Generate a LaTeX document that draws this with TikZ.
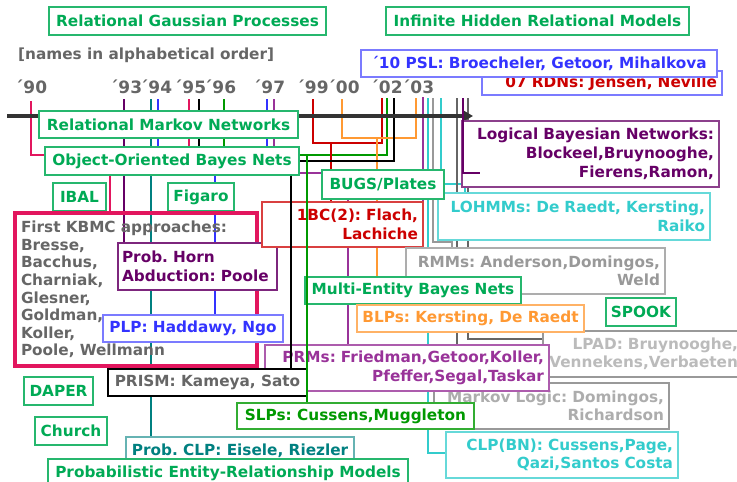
\documentclass[tikz,border=0pt]{standalone}
\usepackage{fontspec}
\setmainfont{DejaVu Sans}
\usetikzlibrary{arrows.meta}

\definecolor{grtext}{HTML}{00AA55}
\definecolor{grline}{HTML}{009900}
\definecolor{kbmcc}{HTML}{E2165E}
\definecolor{dpurple}{HTML}{660066}
\definecolor{mpurple}{HTML}{993399}
\definecolor{tealc}{HTML}{008080}
\definecolor{bluec}{HTML}{3333FF}
\definecolor{lbluec}{HTML}{7B7BFF}
\definecolor{redc}{HTML}{CC0000}
\definecolor{orangec}{HTML}{FF9933}
\definecolor{cyanc}{HTML}{33CCCC}
\definecolor{grayc}{HTML}{999999}
\definecolor{dgrayc}{HTML}{666666}
\definecolor{lgrayc}{HTML}{BBBBBB}
\definecolor{axisc}{HTML}{333333}

\newcommand{\boxfont}{\bfseries\fontsize{15.3}{18.5}\selectfont\frenchspacing}

\tikzset{
  lbl/.style={draw, fill=white, line width=1.2pt, inner xsep=5pt, inner ysep=0pt, font=\boxfont},
  gbox/.style={lbl, draw=grtext!85, text=grtext},
  tick/.style={line width=2pt},
  yr/.style={text=dgrayc, font=\bfseries\fontsize{17}{20}\selectfont, inner sep=0pt},
}

\begin{document}
\begin{tikzpicture}[x=1pt, y=-1pt]
	\useasboundingbox (0,0) rectangle (737,482);

	% year ticks
	\coordinate (y90) at (30.5,101);
	\coordinate (y93) at (124,99);
	\coordinate (y94t) at (151,99);
	\coordinate (y94b) at (158,99);
	\coordinate (y95k) at (189,99);
	\coordinate (y95b) at (199,99);
	\coordinate (y96) at (224,99);
	\coordinate (y97b) at (267,99);
	\coordinate (y97p) at (274,99);
	\coordinate (y99) at (313,99);
	\coordinate (y00) at (342,99);
	\coordinate (y02r) at (382,98);
	\coordinate (y02g) at (387,98);
	\coordinate (y02b) at (394,98);
	\coordinate (y03o) at (416,98);
	\coordinate (y03p) at (423,97);
	\coordinate (y03c) at (428,98);
	\coordinate (y03g) at (433,98);
	\coordinate (y03l) at (441,98);
	\coordinate (y03m) at (457,98);
	\coordinate (y03n) at (463,98);
	\coordinate (y03d) at (468,98);

	% joints
	\coordinate (j90) at (110,155);
	\coordinate (j94) at (215,160);
	\coordinate (jb) at (291,161);
	\coordinate (jg) at (307,155);
	\coordinate (jp) at (348,173);
	\coordinate (jr) at (331,143);
	\coordinate (jo) at (377,138);
	\coordinate (jm) at (452,242);
	\coordinate (jl) at (465,184);
	\coordinate (jd) at (543,339);
	\coordinate (jn) at (480,173);

	% years
	\node[yr, anchor=base] (l90) at (31,93) {´90};
	\node[yr, anchor=base] (l93) at (126,93) {´93};
	\node[yr, anchor=base] (l94) at (156,93) {´94};
	\node[yr, anchor=base] (l95) at (190,93) {´95};
	\node[yr, anchor=base] (l96) at (220,93) {´96};
	\node[yr, anchor=base] (l97) at (269,93) {´97};
	\node[yr, anchor=base] (l99) at (312.5,93) {´99};
	\node[yr, anchor=base] (l00) at (343.5,93) {´00};
	\node[yr, anchor=base] (l02) at (386.5,93) {´02};
	\node[yr, anchor=base] (l03) at (418,93) {´03};
	\node[anchor=west, text=dgrayc, font=\boxfont, inner sep=0pt] (names) at (18,55) {[names in alphabetical order]};

	% lines under the boxes
	\draw[tick, kbmcc] (y90) |- (j90) -- (j90 |- 0,213);
	\draw[tick, dpurple] (y93) -- (y93 |- 0,243);
	\draw[tick, tealc] (y94t) -- (y94t |- 0,437);
	\draw[tick, bluec] (y94b) |- (j94) -- (j94 |- 0,315);
	\draw[tick, kbmcc] (y95k) -- ++(0,62);
	\draw[tick] (y95b) |- (jb);
	\draw[tick, grline] (y96) |- (jg) -| (y02g);
	\draw[tick, bluec] (y97b) -- ++(0,62);
	\draw[tick, mpurple] (y97p) |- (jp) -- (jp |- 0,345);
	\draw[tick, redc] (y99) |- (jr) -| (y02r);
	\draw[tick, redc] (jr) -- (jr |- 0,202);
	\draw[tick, orangec] (y00) |- (jo) -| (y03o);
	\draw[tick, orangec] (jo) -- (jo |- 0,305);
	\draw[tick] (y02b) |- (jb);
	\draw[tick, mpurple] (y03p) -- ++(0,110);
	\draw[tick, cyanc] (y03c) |- (446,453);
	\draw[tick, grayc] (y03g) |- (jm) -- (jm |- 0,248);
	\draw[tick, cyanc] (y03l) |- (jl) -- (jl |- 0,193);
	\draw[tick, dgrayc] (y03m) -- (y03m |- 0,383);
	\draw[tick, dgrayc] (y03d) |- (jd);

	% time axis
	\draw[line width=4pt, axisc, -{Triangle[length=10pt, width=11pt]}] (7,116) -- (473,116);

	% boxes
	\node[gbox, minimum width=277pt, minimum height=28pt] (rgp) at (187.5,21) {Relational Gaussian Processes};
	\node[gbox, minimum width=303pt, minimum height=28pt] (ihrm) at (537.5,21) {Infinite Hidden Relational Models};
	\node[lbl, draw=lbluec, text=redc, text width=230pt, align=right, minimum height=24pt] (rdn) at (602,83) {´07 RDNs: Jensen, Neville};
	\node[lbl, draw=lbluec, text=bluec, minimum width=356pt, minimum height=27pt] (psl) at (539,63.5) {´10 PSL: Broecheler, Getoor, Mihalkova};
	\node[gbox, minimum width=259pt, minimum height=27pt] (rmn) at (168.5,124.5) {Relational Markov Networks};
	\node[gbox, minimum width=254pt, minimum height=28pt] (oobn) at (172,161) {Object-Oriented Bayes Nets};
	\node[gbox, minimum width=53pt, minimum height=28pt] (ibal) at (79.5,197) {IBAL};
	\node[gbox, minimum width=66pt, minimum height=28pt] (figaro) at (201,197) {Figaro};
	\node[lbl, fill=none, draw=kbmcc, line width=4pt, text=dgrayc, inner xsep=6pt, text width=230pt, align=left, minimum height=153pt, font=\bfseries\fontsize{15.3}{17.6}\selectfont] (kbmc) at (136,289.5) {First KBMC approaches:\\Bresse,\\Bacchus,\\Charniak,\\Glesner,\\Goldman,\\Koller,\\Poole, Wellmann};
	\node[lbl, draw=dpurple!85, text=dpurple, text width=151pt, align=left, minimum height=47pt, inner xsep=4pt] (phab) at (197.5,266.5) {Prob. Horn\\Abduction: Poole};
	\node[lbl, draw=lbluec, text=bluec, minimum width=180pt, minimum height=27pt] (plp) at (193,328.5) {PLP: Haddawy, Ngo};
	\node[gbox, minimum width=69pt, minimum height=28pt] (daper) at (58.5,391) {DAPER};
	\node[gbox, minimum width=72pt, minimum height=28pt] (church) at (71,431) {Church};
	\node[lbl, draw=tealc!60, text=tealc, minimum width=228pt, minimum height=28pt] (pclp) at (240,451) {Prob. CLP: Eisele, Riezler};
	\node[gbox, minimum width=360pt, minimum height=28pt] (per) at (228,473) {Probabilistic Entity-Relationship Models};
	\node[lbl, draw=dpurple!75, text=dpurple, text width=247pt, align=right, minimum height=66pt, font=\bfseries\fontsize{15.3}{19}\selectfont] (lbn) at (590.5,154) {Logical Bayesian Networks:\\Blockeel,Bruynooghe,\\Fierens,Ramon,};
	\node[lbl, draw=cyanc!75, text=cyanc, text width=262pt, align=right, minimum height=47pt] (lohmm) at (574,216.5) {LOHMMs: De Raedt, Kersting,\\Raiko};
	\node[gbox, minimum width=122pt, minimum height=29pt] (bugs) at (383,184.5) {BUGS/Plates};
	\node[lbl, draw=redc!75, text=redc, text width=151pt, align=right, minimum height=45pt] (obc) at (342.5,224.5) {1BC(2): Flach,\hspace*{11pt}\\Lachiche};
	\node[lbl, draw=grayc!80, text=grayc, text width=249pt, align=right, minimum height=46pt] (rmm) at (535.5,271) {RMMs: Anderson,Domingos,\\Weld};
	\node[gbox, minimum width=216pt, minimum height=27pt] (mebn) at (413,290.5) {Multi-Entity Bayes Nets};
	\node[lbl, draw=grayc, text=lgrayc, text width=190pt, align=right, minimum height=46pt] (lpad) at (643,354) {LPAD: Bruynooghe,\\Vennekens,Verbaeten};
	\node[lbl, draw=grayc, text=grayc!80, text width=225pt, align=right, minimum height=46pt] (mln) at (551.5,406) {Markov Logic: Domingos,\\Richardson};
	\node[lbl, draw=orangec!75, text=orangec, minimum width=227pt, minimum height=27pt] (blp) at (470.5,318.5) {BLPs: Kersting, De Raedt};
	\node[lbl, draw=mpurple!80, text=mpurple, text width=274pt, align=right, minimum height=46pt] (prm) at (407,368) {PRMs: Friedman,Getoor,Koller,\\Pfeffer,Segal,Taskar};
	\node[lbl, draw=black, text=dgrayc, minimum width=199pt, minimum height=27pt] (prism) at (207.5,382.5) {PRISM: Kameya, Sato};
	\node[lbl, draw=grline!80, text=grline, minimum width=237pt, minimum height=26pt] (slp) at (355.5,416) {SLPs: Cussens,Muggleton};
	\node[gbox, minimum width=70pt, minimum height=28pt] (spook) at (641,312) {SPOOK};
	\node[lbl, draw=cyanc!75, text=cyanc, text width=222pt, align=right, minimum height=46pt] (clpbn) at (562,455) {CLP(BN): Cussens,Page,\\Qazi,Santos Costa};

	% lines over the boxes
	\draw[tick] (jb |- oobn.south) -- (jb |- prism.north);
	\draw[tick, grline] (jg) -- (jg |- slp.north);
	\draw[tick, dpurple] (y03n) |- (jn);
\end{tikzpicture}
\end{document}
